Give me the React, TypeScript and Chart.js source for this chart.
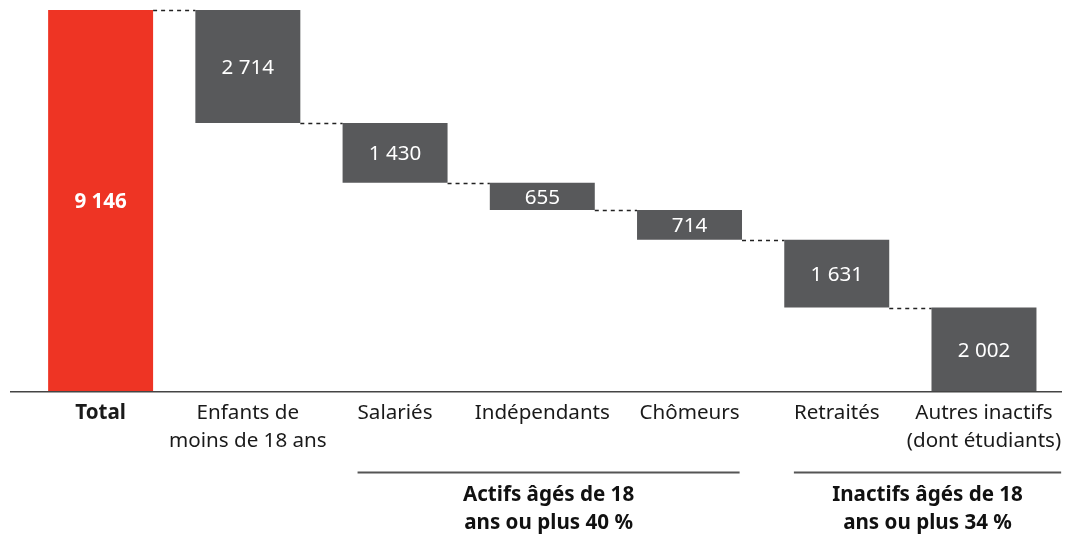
import React, { useEffect, useRef } from "react";
import { Chart, registerables } from "chart.js";

Chart.register(...registerables);

const categories: (string | string[])[] = [
  "Total",
  ["Enfants de", "moins de 18 ans"],
  "Salariés",
  "Indépendants",
  "Chômeurs",
  "Retraités",
  ["Autres inactifs", "(dont étudiants)"],
];
const values: number[] = [9146, 2714, 1430, 655, 714, 1631, 2002];
const groupLabels: string[][] = [
  ["Actifs âgés de 18", "ans ou plus 40 %"],
  ["Inactifs âgés de 18", "ans ou plus 34 %"],
];
const groupRanges: number[][] = [
  [2, 4],
  [5, 6],
];

const FONT = "'Noto Sans', 'Open Sans', sans-serif";
const FS = 20.6;
const RED = "#EE3424";
const GRAY = "#58595B";

const fmt = (v: number) => String(v).replace(/\B(?=(\d{3})+(?!\d))/g, " ");

export default function App() {
  const ref = useRef<HTMLCanvasElement | null>(null);

  useEffect(() => {
    if (!ref.current) return;
    const ranges: number[][] = [];
    let level = values[0];
    ranges.push([0, values[0]]);
    for (let i = 1; i < values.length; i++) {
      ranges.push([level - values[i], level]);
      level -= values[i];
    }

    const overlay = {
      id: "overlay",
      afterDatasetsDraw(chart: any) {
        const ctx = chart.ctx;
        const meta = chart.getDatasetMeta(0);
        const y = chart.scales.y;
        const x = chart.scales.x;
        ctx.save();
        // connectors
        ctx.strokeStyle = "#222";
        ctx.lineWidth = 1.5;
        ctx.setLineDash([4, 4]);
        for (let i = 0; i < meta.data.length - 1; i++) {
          const a = meta.data[i];
          const b = meta.data[i + 1];
          const lvl = i === 0 ? ranges[0][1] : ranges[i][0];
          const py = Math.round(y.getPixelForValue(lvl)) + 0.5;
          ctx.beginPath();
          ctx.moveTo(a.x + a.width / 2, py);
          ctx.lineTo(b.x - b.width / 2, py);
          ctx.stroke();
        }
        ctx.setLineDash([]);
        // value labels
        ctx.fillStyle = "#fff";
        ctx.textAlign = "center";
        ctx.textBaseline = "middle";
        meta.data.forEach((el: any, i: number) => {
          ctx.font = (i === 0 ? "bold " : "") + FS + "px " + FONT;
          const yc = (y.getPixelForValue(ranges[i][0]) + y.getPixelForValue(ranges[i][1])) / 2;
          ctx.fillText(fmt(values[i]), el.x, yc + 1.5);
        });
        // axis line
        const base = chart.chartArea.bottom;
        ctx.strokeStyle = "#444";
        ctx.lineWidth = 1.5;
        ctx.beginPath();
        ctx.moveTo(10, base + 0.75);
        ctx.lineTo(1062, base + 0.75);
        ctx.stroke();
        // groups
        const labelExtent = (i: number) => {
          const lab = categories[i];
          const lines = Array.isArray(lab) ? lab : [lab];
          const w = Math.max(...lines.map((l) => ctx.measureText(l).width));
          const cx = x.getPixelForValue(i);
          return [cx - w / 2, cx + w / 2];
        };
        groupRanges.forEach((g, gi) => {
          ctx.font = FS + "px " + FONT;
          const x0 = labelExtent(g[0])[0];
          const x1 = labelExtent(g[1])[1];
          ctx.strokeStyle = "#555";
          ctx.lineWidth = 2;
          ctx.beginPath();
          ctx.moveTo(x0, 472.5);
          ctx.lineTo(x1, 472.5);
          ctx.stroke();
          ctx.font = "bold " + FS + "px " + FONT;
          ctx.fillStyle = "#111";
          const cx = (x0 + x1) / 2;
          groupLabels[gi].forEach((l, li) => {
            ctx.fillText(l, cx, 495 + li * 28);
          });
        });
        ctx.restore();
      },
    };

    const chart = new Chart(ref.current, {
      type: "bar",
      data: {
        labels: categories as any,
        datasets: [
          {
            data: ranges as any,
            backgroundColor: values.map((_, i) => (i === 0 ? RED : GRAY)),
            borderWidth: 0,
            barPercentage: 0.713,
            categoryPercentage: 1,
          },
        ],
      },
      options: {
        animation: false,
        responsive: true,
        maintainAspectRatio: false,
        layout: { padding: { top: 10, left: 27, right: 12, bottom: 0 } },
        plugins: { legend: { display: false }, tooltip: { enabled: false } },
        scales: {
          y: { display: false, min: 0, max: values[0] },
          x: {
            grid: { display: false, drawTicks: false },
            border: { display: false },
            afterFit: (s: any) => {
              s.height = 146;
            },
            ticks: {
              autoSkip: false,
              maxRotation: 0,
              minRotation: 0,
              padding: 8,
              color: "#1a1a1a",
              font: (c: any) => ({
                family: FONT,
                size: FS,
                weight: c.index === 0 ? "bold" : "normal",
                lineHeight: 1.36,
              }),
            },
          },
        },
      },
      plugins: [overlay],
    });
    return () => chart.destroy();
  }, []);

  return (
    <div style={{ position: "absolute", left: 0, top: 0, width: 1070, height: 537 }}>
      <canvas ref={ref} />
    </div>
  );
}
